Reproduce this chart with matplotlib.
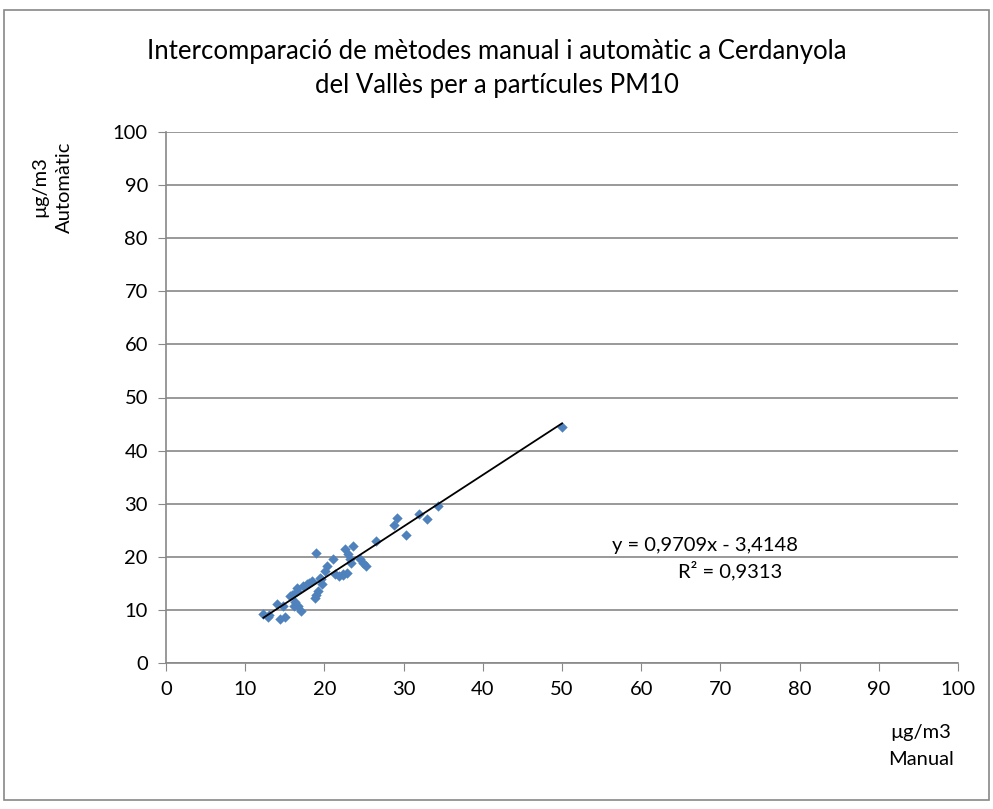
import numpy as np
import matplotlib.pyplot as plt
from matplotlib.patches import Rectangle

plt.rcParams['font.family'] = ['Lato', 'DejaVu Sans']

# manual (x) vs automatic (y), ug/m3
manual = [12.3, 12.9, 13.0, 14.4, 15.0, 14.0, 14.8, 15.9, 16.3, 16.1,
          16.7, 17.1, 16.5, 15.7, 17.3, 18.0, 18.4, 17.8, 19.0, 19.2,
          19.7, 18.8, 19.4, 19.0, 20.1, 20.3, 21.1, 21.3, 21.8, 22.4,
          22.8, 22.6, 23.0, 23.2, 23.6, 23.4, 24.5, 24.9, 25.3, 26.5,
          28.8, 29.2, 30.3, 31.9, 33.0, 34.3, 50.0, 16.5, 19.6, 22.3]
auto = [9.2, 8.6, 9.0, 8.3, 8.7, 11.1, 10.8, 12.9, 11.4, 10.8,
        10.8, 9.8, 13.6, 12.6, 14.5, 15.1, 15.4, 14.9, 12.9, 13.6,
        14.8, 12.3, 16.1, 20.8, 17.3, 18.3, 19.5, 16.7, 16.4, 16.7,
        17.0, 21.4, 20.5, 19.5, 22.0, 18.9, 19.5, 18.9, 18.3, 22.9,
        25.9, 27.3, 24.1, 28.1, 27.2, 29.6, 44.5, 14.2, 15.9, 16.5]

slope = 0.9709
intercept = -3.4148
r2 = 0.9313

fig = plt.figure(figsize=(9.93, 8.09), dpi=100)
fig.patches.append(Rectangle((4/993, 1 - 800/809), 985/993, 790/809,
                             transform=fig.transFigure, fill=False,
                             edgecolor='#888888', linewidth=1.2))
ax = fig.add_axes([166/993, 1 - 663/809, 792/993, 531/809])

ax.scatter(manual, auto, marker='D', s=28, color='#4F81BD', zorder=3, linewidths=0)
xs = np.array([min(manual), max(manual)])
ax.plot(xs, slope * xs + intercept, color='black', linewidth=1.3, zorder=4)

ax.set_xlim(0, 100)
ax.set_ylim(0, 100)
ax.set_xticks(np.arange(0, 101, 10))
ax.set_yticks(np.arange(0, 101, 10))
ax.yaxis.grid(True, color='#888888', linewidth=1.2)
ax.set_axisbelow(True)
for s in ['top', 'right']:
    ax.spines[s].set_visible(False)
for s in ['left', 'bottom']:
    ax.spines[s].set_color('#888888')
    ax.spines[s].set_linewidth(1.2)
ax.tick_params(direction='out', length=6, color='#888888', labelsize=14.5, pad=7)

fig.text(0.5, 1 - 69/809, 'Intercomparació de mètodes manual i automàtic a Cerdanyola\n'
         'del Vallès per a partícules PM10', ha='center', va='center',
         fontsize=18.5, linespacing=1.45)
fig.text(52/993, 1 - 187/809, 'µg/m3\nAutomàtic', rotation=90, ha='center', va='center',
         fontsize=14.5, linespacing=1.5)
fig.text(921/993, 1 - 746/809, 'µg/m3\nManual', ha='center', va='center',
         fontsize=14.5, linespacing=1.65)

fig.text(705/993, 1 - 545/809, 'y = {:.4f}x - {:.4f}'.format(slope, -intercept).replace('.', ','),
         ha='center', va='center', fontsize=14.5)
fig.text(730/993, 1 - 571/809, 'R² = {:.4f}'.format(r2).replace('.', ','),
         ha='center', va='center', fontsize=14.5)

fig.savefig('out.png', dpi=100)
